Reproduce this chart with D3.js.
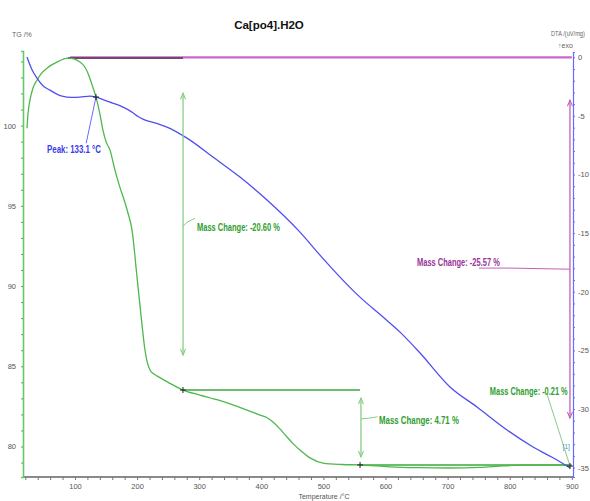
<!DOCTYPE html>
<html>
<head>
<meta charset="utf-8">
<script src="https://cdn.jsdelivr.net/npm/d3@7"></script>
<style>
html,body{margin:0;padding:0;background:#fff;}
svg{display:block;}
</style>
</head>
<body>
<script>
// ---------- DATA ----------
const title = "Ca[po4].H2O";
const xTickValues = d3.range(20, 901, 20);
const xLabelValues = [100, 200, 300, 400, 500, 600, 700, 800, 900];
const tgTickValues = d3.range(79, 105, 1);
const tgLabelValues = [80, 85, 90, 95, 100];
const dtaTickValues = d3.range(-35, 1, 1);
const dtaLabelValues = [0, -5, -10, -15, -20, -25, -30, -35];

// green TG curve (temperature °C, mass %)
const greenT = [22.7, 24.5, 27.5, 32, 38.8, 46, 54.9, 63, 71, 80, 88.7, 98, 108, 115, 120.9, 127, 133.8, 140, 145, 150, 156.4, 164.4, 172, 180.5, 185, 191.8, 199.8, 207.9, 212, 216, 220.8, 226, 232, 250, 273.9, 301, 330, 354.4, 378, 398, 410, 418.8, 430, 441.4, 452, 462.3, 478.4, 499.4, 530, 559, 607, 650, 704, 752, 790, 840, 897];
const greenV = [99.84, 100.8, 101.59, 102.3, 102.83, 103.25, 103.58, 103.8, 103.96, 104.12, 104.21, 104.16, 103.96, 103.7, 103.27, 102.6, 101.78, 100.75, 99.72, 99.0, 98.47, 97.23, 96.2, 95.2, 94.6, 93.5, 90.6, 87.6, 86.2, 85.3, 84.77, 84.55, 84.4, 84.0, 83.52, 83.21, 82.9, 82.59, 82.25, 81.96, 81.78, 81.53, 81.1, 80.59, 80.15, 79.78, 79.29, 78.97, 78.88, 78.85, 78.73, 78.68, 78.66, 78.70, 78.80, 78.85, 78.85];

// blue curve (temperature °C, mass %)
const blueT = [22.7, 30, 38.8, 48, 59.7, 70, 79.1, 95, 108, 124.2, 133.8, 145, 156.4, 167, 177.3, 186, 193.4, 201, 209.5, 218, 225.6, 236, 248.1, 280.4, 322.2, 365.7, 409.2, 462.3, 494.5, 526.7, 558.9, 596, 623.4, 655.6, 703.9, 747.3, 795.7, 837.5, 876.2, 897.1];
const blueV = [104.27, 103.55, 102.96, 102.5, 102.21, 101.98, 101.84, 101.76, 101.78, 101.84, 101.78, 101.62, 101.46, 101.32, 101.15, 100.98, 100.8, 100.58, 100.40, 100.28, 100.2, 100.08, 99.91, 99.22, 98.04, 96.79, 95.36, 93.36, 91.93, 90.56, 89.31, 88.07, 87.13, 85.83, 83.71, 82.46, 81.03, 79.97, 79.16, 78.66];

// DTA (magenta) flat line (temperature °C, uV/mg)
const dtaT = [92, 900];
const dtaV = [0, 0];

// step reference lines (temperature from, temperature to, mass %)
const stepFrom = [88.7, 273.9, 559];
const stepTo = [273.9, 559, 900];
const stepLevel = [104.21, 83.52, 78.85];

// mass change annotations
const mcText = ["Mass Change: -20.60 %", "Mass Change: 4.71 %", "Mass Change: -25.57 %", "Mass Change: -0.21 %"];
const mcArrowT = [274, 560.5, 897, null];
const mcArrowTop = [102.02, 83.02, 101.59, null];
const mcArrowBottom = [85.7, 79.35, 81.78, null];
const mcLabelT = [296.5, 589.5, 650.7, 768];
const mcLabelV = [93.49, 81.46, 91.31, 83.27];
const mcLabelW = [83, 80, 83, 78];
const mcLeaderT = [[274, 280, 293], [560.5, 576, 587], [897, 800, 750.5], [897, 860]];
const mcLeaderV = [[93.72, 93.97, 94.22], [81.72, 81.78, 81.85], [91.05, 91.12, 91.12], [78.8, 83.27]];
const mcColor = ["#2e9e2e", "#2e9e2e", "#993399", "#2e9e2e"];
const mcLineColor = ["#88cc88", "#88cc88", "#c060c0", "#88cc88"];

// peak annotation
const peakText = "Peak: 133.1 °C";
const peakT = 133.8, peakV = 101.78;
const peakLabelT = 55, peakLabelV = 98.35;
const peakLeaderT = 118, peakLeaderV = 98.9;

// crosshair markers (temperature, mass %)
const crossT = [133.8, 273.9, 559, 897];
const crossV = [101.78, 83.52, 78.85, 78.78];

// ---------- CHART ----------
const W = 590, H = 501;
const svg = d3.select("body").append("svg").attr("width", W).attr("height", H);

const x = d3.scaleLinear().domain([16.3, 901.9]).range([23, 573]);
const yTG = d3.scaleLinear().domain([78.1, 104.65]).range([477, 51]);
const yDTA = d3.scaleLinear().domain([-35.8, 0.45]).range([477, 52]);

const sans = "'Liberation Sans',Arial,sans-serif";

// condensed text helper: squeeze horizontally to a target width via transform
function squeezedText(px, py, txt, size, weight, color, width) {
  const g = svg.append("g").attr("transform", `translate(${px},${py})`);
  const t = g.append("text").attr("x", 0).attr("y", 0)
    .attr("font-family", sans).attr("font-weight", weight).attr("font-size", size)
    .attr("fill", color).text(txt);
  const natural = t.node().getComputedTextLength();
  const k = natural > 0 ? width / natural : 1;
  t.attr("transform", `scale(${k},1)`);
  return t;
}

// title
svg.append("text").attr("x", 269).attr("y", 29).attr("text-anchor", "middle")
  .attr("font-family", sans).attr("font-weight", "bold")
  .attr("font-size", 11.5).attr("fill", "#111").text(title);

svg.append("text").attr("x", 12).attr("y", 37).attr("font-family", sans)
  .attr("font-size", 7).attr("fill", "#666").text("TG /%");
squeezedText(551, 36, "DTA /(uV/mg)", 7, "normal", "#666", 34);
svg.append("text").attr("x", 558).attr("y", 48).attr("font-family", sans)
  .attr("font-size", 7).attr("fill", "#666").text("↑exo");

// x axis
const xAxis = d3.axisBottom(x).tickValues(xTickValues).tickSize(3).tickPadding(4)
  .tickFormat(d => xLabelValues.includes(d) ? String(d) : "");
const gx = svg.append("g").attr("transform", `translate(0,${yTG.range()[0]})`).call(xAxis);
gx.select(".domain").attr("stroke", "#8a8a8a").attr("stroke-width", 2.2).attr("d", `M${x.range()[0]},0H${x.range()[1]}`);
gx.selectAll(".tick line").attr("stroke", "#777");
gx.selectAll(".tick text").attr("font-family", sans).attr("font-size", 7.5).attr("fill", "#555");
svg.append("text").attr("x", 324).attr("y", 499).attr("text-anchor", "middle")
  .attr("font-family", sans).attr("font-size", 7).attr("fill", "#555").text("Temperature /°C");

// left TG axis
const yAxisL = d3.axisLeft(yTG).tickValues(tgTickValues).tickSize(2).tickPadding(5)
  .tickFormat(d => tgLabelValues.includes(d) ? String(d) : "");
const gl = svg.append("g").attr("transform", `translate(${x.range()[0]},0)`).call(yAxisL);
gl.select(".domain").attr("stroke", "#66c866").attr("stroke-width", 1.6);
gl.selectAll(".tick line").attr("stroke", "#55aa55");
gl.selectAll(".tick text").attr("font-family", sans).attr("font-size", 7.5).attr("fill", "#555");

// right DTA axis
const yAxisR = d3.axisRight(yDTA).tickValues(dtaTickValues).tickSize(2).tickPadding(3)
  .tickFormat(d => dtaLabelValues.includes(d) ? String(d) : "");
const gr = svg.append("g").attr("transform", `translate(${x.range()[1]},0)`).call(yAxisR);
gr.select(".domain").attr("stroke", "#6a6aff").attr("stroke-width", 1.2);
gr.selectAll(".tick line").attr("stroke", "#6a6aff");
gr.selectAll(".tick text").attr("font-family", sans).attr("font-size", 7.5).attr("fill", "#555");

// DTA magenta line
const dtaLine = d3.line().x(d => x(d[0])).y(d => yDTA(d[1]));
svg.append("path").datum(d3.zip(dtaT, dtaV)).attr("d", dtaLine)
  .attr("fill", "none").attr("stroke", "#cc66cc").attr("stroke-width", 2.2);

// step reference lines
stepFrom.forEach((t0, i) => {
  svg.append("line").attr("x1", x(t0)).attr("x2", x(stepTo[i]))
    .attr("y1", yTG(stepLevel[i])).attr("y2", yTG(stepLevel[i]))
    .attr("stroke", i === 0 ? "#6e4a6e" : "#3aaa3a").attr("stroke-width", i === 0 ? 2 : 1.4);
});

// curves
const tgLine = d3.line().x(d => x(d[0])).y(d => yTG(d[1])).curve(d3.curveMonotoneX);
svg.append("path").datum(d3.zip(greenT, greenV)).attr("d", tgLine)
  .attr("fill", "none").attr("stroke", "#4db84d").attr("stroke-width", 1.3);
svg.append("path").datum(d3.zip(blueT, blueV)).attr("d", tgLine)
  .attr("fill", "none").attr("stroke", "#4f4ff0").attr("stroke-width", 1.3);

// arrows
function arrowHead(px, py, dir, color) {
  const s = 6, w = 2.5;
  svg.append("path")
    .attr("d", `M${px - w},${py - dir * s}L${px},${py}L${px + w},${py - dir * s}`)
    .attr("fill", "none").attr("stroke", color).attr("stroke-width", 1.1);
}
mcText.forEach((txt, i) => {
  if (mcArrowT[i] !== null) {
    const ax = x(mcArrowT[i]), y1 = yTG(mcArrowTop[i]), y2 = yTG(mcArrowBottom[i]);
    svg.append("line").attr("x1", ax).attr("x2", ax).attr("y1", y1).attr("y2", y2)
      .attr("stroke", mcLineColor[i]).attr("stroke-width", 1.3);
    arrowHead(ax, y1, -1, mcLineColor[i]);
    arrowHead(ax, y2, 1, mcLineColor[i]);
  }
  const pts = mcLeaderT[i].map((t, j) => [x(t), yTG(mcLeaderV[i][j])]);
  svg.append("path").attr("d", d3.line()(pts)).attr("fill", "none")
    .attr("stroke", mcLineColor[i]).attr("stroke-width", 1);
  squeezedText(x(mcLabelT[i]), yTG(mcLabelV[i]) + 0.5, txt, 10.5, "bold", mcColor[i], mcLabelW[i]);
});

// peak annotation
svg.append("line").attr("x1", x(peakT)).attr("y1", yTG(peakV))
  .attr("x2", x(peakLeaderT)).attr("y2", yTG(peakLeaderV))
  .attr("stroke", "#6a6aff").attr("stroke-width", 1);
squeezedText(x(peakLabelT), yTG(peakLabelV) + 0.5, peakText, 10.5, "bold", "#3a3aee", 54);

// crosses
crossT.forEach((t, i) => {
  const cx = x(t), cy = yTG(crossV[i]);
  svg.append("path").attr("d", `M${cx - 3},${cy}H${cx + 3}M${cx},${cy - 3}V${cy + 3}`)
    .attr("stroke", "#222").attr("stroke-width", 1);
});

// small [1] mark
svg.append("text").attr("x", x(891)).attr("y", yTG(79.85)).attr("text-anchor", "middle")
  .attr("font-family", sans).attr("font-size", 6.5).attr("fill", "#4a8fc8").text("[1]");
</script>
</body>
</html>
